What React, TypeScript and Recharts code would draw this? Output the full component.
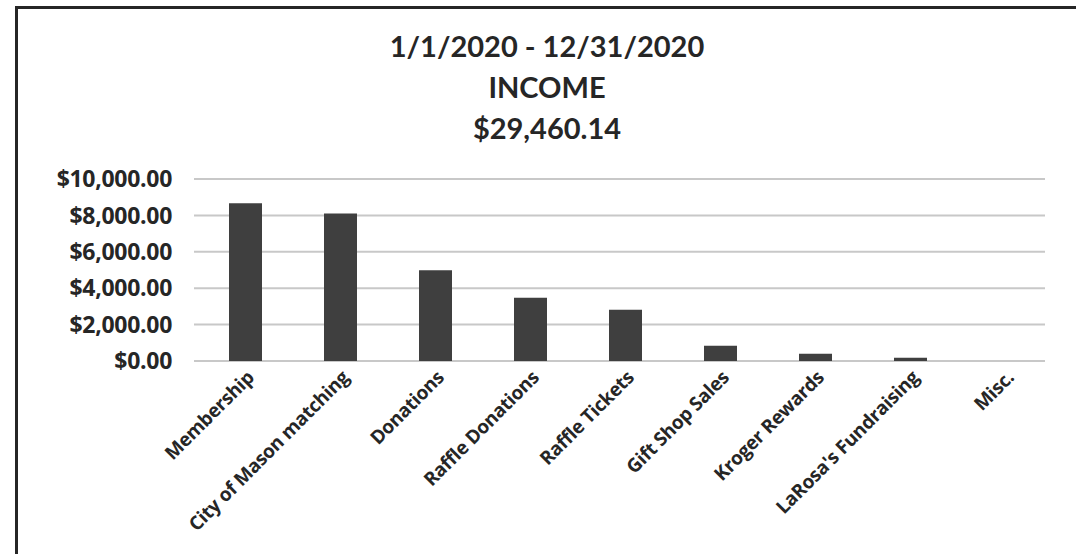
import React from "react";
import { BarChart, Bar, XAxis, YAxis, CartesianGrid } from "recharts";

const categories = [
  "Membership",
  "City of Mason matching",
  "Donations",
  "Raffle Donations",
  "Raffle Tickets",
  "Gift Shop Sales",
  "Kroger Rewards",
  "LaRosa's Fundraising",
  "Misc.",
];
const incomeValues = [8670, 8100, 4980, 3480, 2810, 840, 400, 180, 0];
const yTicks = [0, 2000, 4000, 6000, 8000, 10000];
const titleLines = ["1/1/2020 - 12/31/2020", "INCOME", "$29,460.14"];

const data = categories.map((name, i) => ({ name, value: incomeValues[i] }));

const fmt = (v: number) =>
  "$" + v.toLocaleString("en-US", { minimumFractionDigits: 2, maximumFractionDigits: 2 });

const XTick = (props: any) => {
  const { x, y, payload } = props;
  return (
    <g transform={`translate(${x + 5},${y + 11})`}>
      <text
        x={0}
        y={0}
        dy="0.35em"
        textAnchor="end"
        transform="rotate(-45)"
        fill="#262626"
        fontFamily="'Open Sans', sans-serif"
        fontWeight={700}
        fontSize={19}
        letterSpacing={-0.3}
      >
        {payload.value}
      </text>
    </g>
  );
};

export default function App() {
  return (
    <div
      style={{
        position: "absolute",
        left: 0,
        top: 0,
        width: 1076,
        height: 554,
        background: "#fff",
        overflow: "hidden",
      }}
    >
      <div
        style={{
          position: "absolute",
          left: 15,
          top: 6,
          width: 1200,
          height: 700,
          border: "3px solid #262626",
          boxSizing: "border-box",
        }}
      />
      <div style={{ position: "absolute", left: 0, top: 0 }}>
        <BarChart
          width={1076}
          height={554}
          data={data}
          margin={{ top: 179, right: 31, bottom: 0, left: 0 }}
          barCategoryGap="0%"
        >
          <CartesianGrid vertical={false} stroke="#c8c8c8" strokeWidth={2} />
          <XAxis
            dataKey="name"
            interval={0}
            axisLine={false}
            tickLine={false}
            tickSize={0}
            tick={<XTick />}
            padding={{ left: 4, right: -8 }}
            height={193}
          />
          <YAxis
            domain={[0, 10000]}
            ticks={yTicks}
            tickFormatter={fmt}
            axisLine={false}
            tickLine={false}
            tickSize={0}
            tickMargin={22}
            width={194}
            tick={{
              fill: "#262626",
              fontFamily: "'Open Sans', sans-serif",
              fontWeight: 700,
              fontSize: 23,
              letterSpacing: -0.3,
            }}
          />
          <Bar dataKey="value" fill="#3f3f3f" barSize={33} isAnimationActive={false} />
        </BarChart>
      </div>
      <svg
        width={1076}
        height={160}
        style={{ position: "absolute", left: 0, top: 0, pointerEvents: "none" }}
      >
        {titleLines.map((t, i) => (
          <text
            key={t}
            x={547}
            y={57 + i * 41}
            textAnchor="middle"
            fill="#262626"
            fontFamily="Lato, sans-serif"
            fontWeight={700}
            fontSize={29}
          >
            {t}
          </text>
        ))}
      </svg>
    </div>
  );
}
